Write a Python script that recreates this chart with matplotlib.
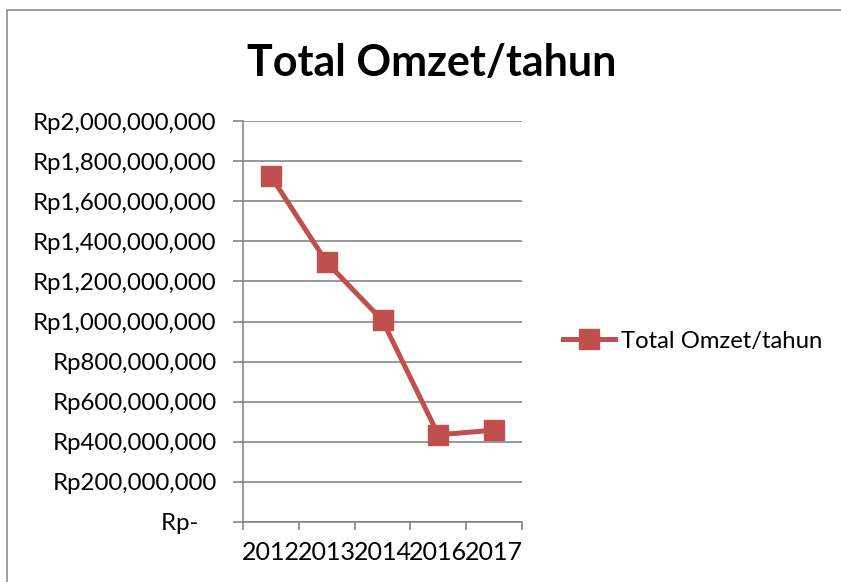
import matplotlib
matplotlib.use("Agg")
import matplotlib.pyplot as plt
from matplotlib.patches import Rectangle
from matplotlib.ticker import FuncFormatter, FixedLocator

# data
years = ["2012", "2013", "2014", "2016", "2017"]
omzet = [1.725e9, 1.295e9, 1.005e9, 0.435e9, 0.458e9]
series_name = "Total Omzet/tahun"

RED = "#C0504D"
GRID = "#868686"
FONT = "Lato"

fig = plt.figure(figsize=(8.41, 5.82), dpi=100)
# chart frame
fig.patches.append(Rectangle((7/841, -0.05), 1.0, 1 - 10/582 + 0.05, transform=fig.transFigure,
                             fill=False, edgecolor="#8c8c8c", linewidth=1.2))

ax = fig.add_axes([243/841, 1 - 522/582, (522 - 243)/841, (522 - 121)/582])
x = list(range(len(years)))
ax.plot(x, omzet, color=RED, linewidth=3.6, marker="s", markersize=14,
        markeredgecolor=RED, markerfacecolor=RED, label=series_name, zorder=3)

ax.set_xlim(-0.5, len(years) - 0.5)
ax.set_ylim(0, 2e9)
ax.set_yticks([i * 2e8 for i in range(11)])

def rp(v, pos):
    if v == 0:
        return "Rp-   "
    return "Rp{:,.0f}".format(v)

ax.yaxis.set_major_formatter(FuncFormatter(rp))
ax.xaxis.set_major_locator(FixedLocator([i - 0.5 for i in range(len(years) + 1)]))
ax.xaxis.set_minor_locator(FixedLocator(x))
ax.set_xticklabels([""] * (len(years) + 1))
ax.set_xticklabels(years, minor=True)
ax.tick_params(axis="x", which="minor", length=0, pad=14, labelsize=18)
ax.tick_params(axis="x", which="major", length=6, color=GRID, width=1.2)
ax.tick_params(axis="y", length=7, color=GRID, width=1.2, pad=12, labelsize=17.3)
for lab in ax.get_xticklabels(minor=True) + ax.get_yticklabels():
    lab.set_fontfamily(FONT)

ax.grid(axis="y", color=GRID, linewidth=1.2)
ax.set_axisbelow(True)
for s in ["top", "right"]:
    ax.spines[s].set_visible(False)
ax.spines["left"].set_color(GRID)
ax.spines["bottom"].set_color(GRID)
ax.spines["left"].set_linewidth(1.2)
ax.spines["bottom"].set_linewidth(1.2)

fig.text(432/841, 1 - 63/582, "Total Omzet/tahun", ha="center", va="center",
         fontsize=31, fontweight="bold", fontfamily=FONT)

leg = fig.legend(loc="center left", bbox_to_anchor=(541/841, 1 - 341/582), frameon=False,
                 prop={"family": FONT, "size": 17.2}, handlelength=2.2, handletextpad=0.25)

fig.savefig("out.png", dpi=100)
